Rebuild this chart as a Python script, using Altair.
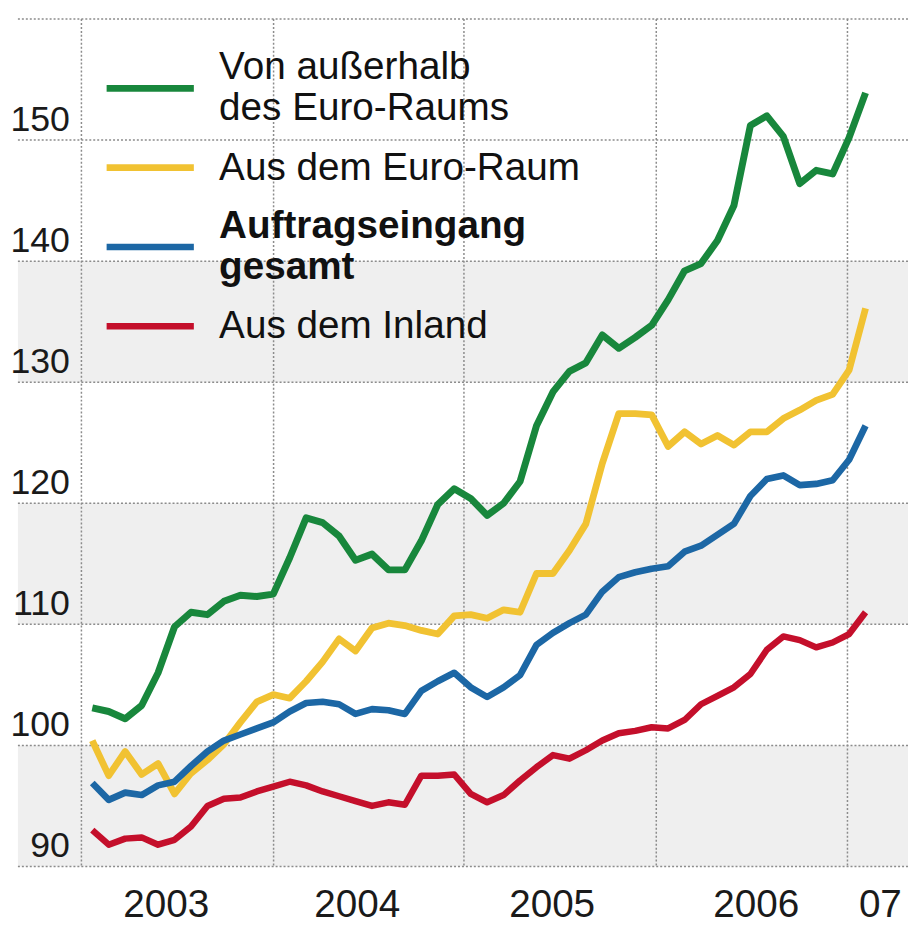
import altair as alt
import pandas as pd

# ---------------- data ----------------
MONTHS = [f"{y}-{m:02d}" for y in range(2003, 2007) for m in range(1, 13)]

SERIES = [
    "Von außerhalb des Euro-Raums",
    "Aus dem Euro-Raum",
    "Auftragseingang gesamt",
    "Aus dem Inland",
]

GREEN = [103.1, 102.8, 102.2, 103.3, 106.0, 109.8, 111.0, 110.8, 111.9, 112.4, 112.3, 112.5,
         115.5, 118.8, 118.4, 117.3, 115.3, 115.8, 114.5, 114.5, 116.9, 119.9, 121.2, 120.4,
         119.0, 120.0, 121.8, 126.4, 129.2, 130.9, 131.6, 133.9, 132.8, 133.7, 134.7, 136.8,
         139.2, 139.8, 141.7, 144.6, 151.2, 152.0, 150.3, 146.4, 147.5, 147.2, 150.2, 153.9]

YELLOW = [100.4, 97.5, 99.5, 97.6, 98.5, 96.0, 97.7, 98.8, 100.1, 101.9, 103.6, 104.2,
          103.9, 105.3, 106.9, 108.8, 107.8, 109.7, 110.1, 109.9, 109.5, 109.2, 110.7, 110.8,
          110.5, 111.2, 111.0, 114.2, 114.2, 116.1, 118.3, 123.3, 127.4, 127.4, 127.3, 124.7,
          125.9, 124.9, 125.6, 124.8, 125.9, 125.9, 127.0, 127.7, 128.5, 129.0, 131.0, 136.1]

BLUE = [96.9, 95.5, 96.1, 95.9, 96.7, 97.0, 98.3, 99.5, 100.4, 100.9, 101.4, 101.9,
        102.8, 103.5, 103.6, 103.4, 102.6, 103.0, 102.9, 102.6, 104.5, 105.3, 106.0, 104.8,
        104.0, 104.8, 105.8, 108.3, 109.3, 110.1, 110.8, 112.7, 113.9, 114.3, 114.6, 114.8,
        116.0, 116.5, 117.4, 118.3, 120.6, 122.0, 122.3, 121.5, 121.6, 121.9, 123.6, 126.4]

RED = [93.0, 91.8, 92.3, 92.4, 91.8, 92.2, 93.3, 95.0, 95.6, 95.7, 96.2, 96.6,
       97.0, 96.7, 96.2, 95.8, 95.4, 95.0, 95.3, 95.1, 97.5, 97.5, 97.6, 96.0,
       95.3, 95.9, 97.1, 98.2, 99.2, 98.9, 99.6, 100.4, 101.0, 101.2, 101.5, 101.4,
       102.1, 103.4, 104.1, 104.8, 105.9, 107.9, 109.0, 108.7, 108.1, 108.5, 109.2, 111.0]

Y_TICKS = [90, 100, 110, 120, 130, 140, 150, 160]
BAND_LOW = [90, 110, 130]
BAND_HIGH = [100, 120, 140]

# year boundaries and year labels, in month-index units
YEAR_LINES = [-0.66, 11.02, 22.59, 34.28, 45.9]
YEAR_LABELS = ["2003", "2004", "2005", "2006", "07"]
YEAR_LABEL_POS = [4.5, 16.1, 27.95, 40.35, 47.9]

COLORS = ["#18873c", "#f1c232", "#1c67a5", "#c40f2b"]
WIDTHS = [7, 6.5, 7, 9.5]

# ---------------- tables ----------------
values_by_series = {SERIES[0]: GREEN, SERIES[1]: YELLOW, SERIES[2]: BLUE, SERIES[3]: RED}
draw_order = [SERIES[1], SERIES[0], SERIES[3], SERIES[2]]
rows = []
for s in draw_order:
    for i, v in enumerate(values_by_series[s]):
        rows.append({"series": s, "month": MONTHS[i], "idx": i, "value": v})
df = pd.DataFrame(rows)

bands = pd.DataFrame({"lo": BAND_LOW, "hi": BAND_HIGH})
hgrid = pd.DataFrame({"v": Y_TICKS})
vgrid = pd.DataFrame({"x": YEAR_LINES})
years = pd.DataFrame({"label": YEAR_LABELS, "pos": YEAR_LABEL_POS})

W, H = 898, 855
FONT = "Liberation Sans"

xscale = alt.Scale(domain=[-4.52, 49.58], nice=False, zero=False)
yscale = alt.Scale(domain=[90, 160], nice=False, zero=False)

yaxis = alt.Axis(
    values=Y_TICKS,
    title=None,
    grid=False,
    ticks=False,
    domain=False,
    labelPadding=-52,
    labelAlign="right",
    labelBaseline="alphabetic",
    labelOffset=-10,
    labelFont=FONT,
    labelFontSize=36,
    labelColor="#1a1a1a",
    labelExpr="datum.value >= 160 ? '' : datum.label",
    zindex=1,
)

band_layer = alt.Chart(bands).mark_rect(color="#efefef").encode(
    x=alt.value(0),
    x2=alt.value(W),
    y=alt.Y("lo:Q", scale=yscale, axis=yaxis),
    y2="hi:Q",
)

grid_style = dict(color="#8c8c8c", strokeWidth=1.5, strokeDash=[2, 2])

hgrid_layer = alt.Chart(hgrid).mark_rule(**grid_style).encode(
    x=alt.value(0),
    x2=alt.value(W),
    y=alt.Y("v:Q", scale=yscale, axis=yaxis),
)
vgrid_layer = alt.Chart(vgrid).mark_rule(**grid_style).encode(
    x=alt.X("x:Q", scale=xscale, axis=None)
)

two_line = "(datum.value == 'Von außerhalb des Euro-Raums' || datum.value == 'Auftragseingang gesamt')"
label_expr = (
    "datum.value == 'Von außerhalb des Euro-Raums' ? ['Von außerhalb', 'des Euro-Raums'] : "
    "datum.value == 'Auftragseingang gesamt' ? ['Auftragseingang', 'gesamt'] : datum.label"
)

legend = alt.Legend(
    title=None,
    orient="none",
    legendX=86,
    legendY=30,
    direction="vertical",
    padding=0,
    symbolType="stroke",
    symbolSize=7744,
    symbolStrokeWidth=7,
    labelFont=FONT,
    labelFontSize=39,
    labelColor="#111111",
    labelOffset=22,
    labelLimit=700,
    clipHeight=80,
    rowPadding=0,
    labelExpr=label_expr,
    labelBaseline={"expr": two_line + " ? 'line-bottom' : 'middle'"},
    labelFontWeight={"expr": "datum.value == 'Auftragseingang gesamt' ? 'bold' : 'normal'"},
)

line_layer = alt.Chart(df).mark_line(strokeJoin="round", strokeCap="butt").encode(
    x=alt.X("idx:Q", scale=xscale, axis=None),
    y=alt.Y("value:Q", scale=yscale, axis=yaxis),
    color=alt.Color("series:N", scale=alt.Scale(domain=SERIES, range=COLORS), legend=legend),
    strokeWidth=alt.StrokeWidth("series:N", scale=alt.Scale(domain=SERIES, range=WIDTHS), legend=None),
    detail="series:N",
)

year_layer = alt.Chart(years).mark_text(
    font=FONT, fontSize=39, baseline="alphabetic", align="center", color="#1a1a1a"
).encode(
    x=alt.X("pos:Q", scale=xscale, axis=None),
    y=alt.value(H + 51),
    text="label:N",
)

chart = alt.layer(band_layer, hgrid_layer, vgrid_layer, line_layer, year_layer).properties(
    width=W,
    height=H,
    padding={"left": 10, "top": 7, "right": 0, "bottom": 62},
    autosize=alt.AutoSizeParams(type="none"),
    background="white",
).configure_view(stroke=None)

chart.save("out.html", embed_options={"renderer": "svg", "actions": False})
